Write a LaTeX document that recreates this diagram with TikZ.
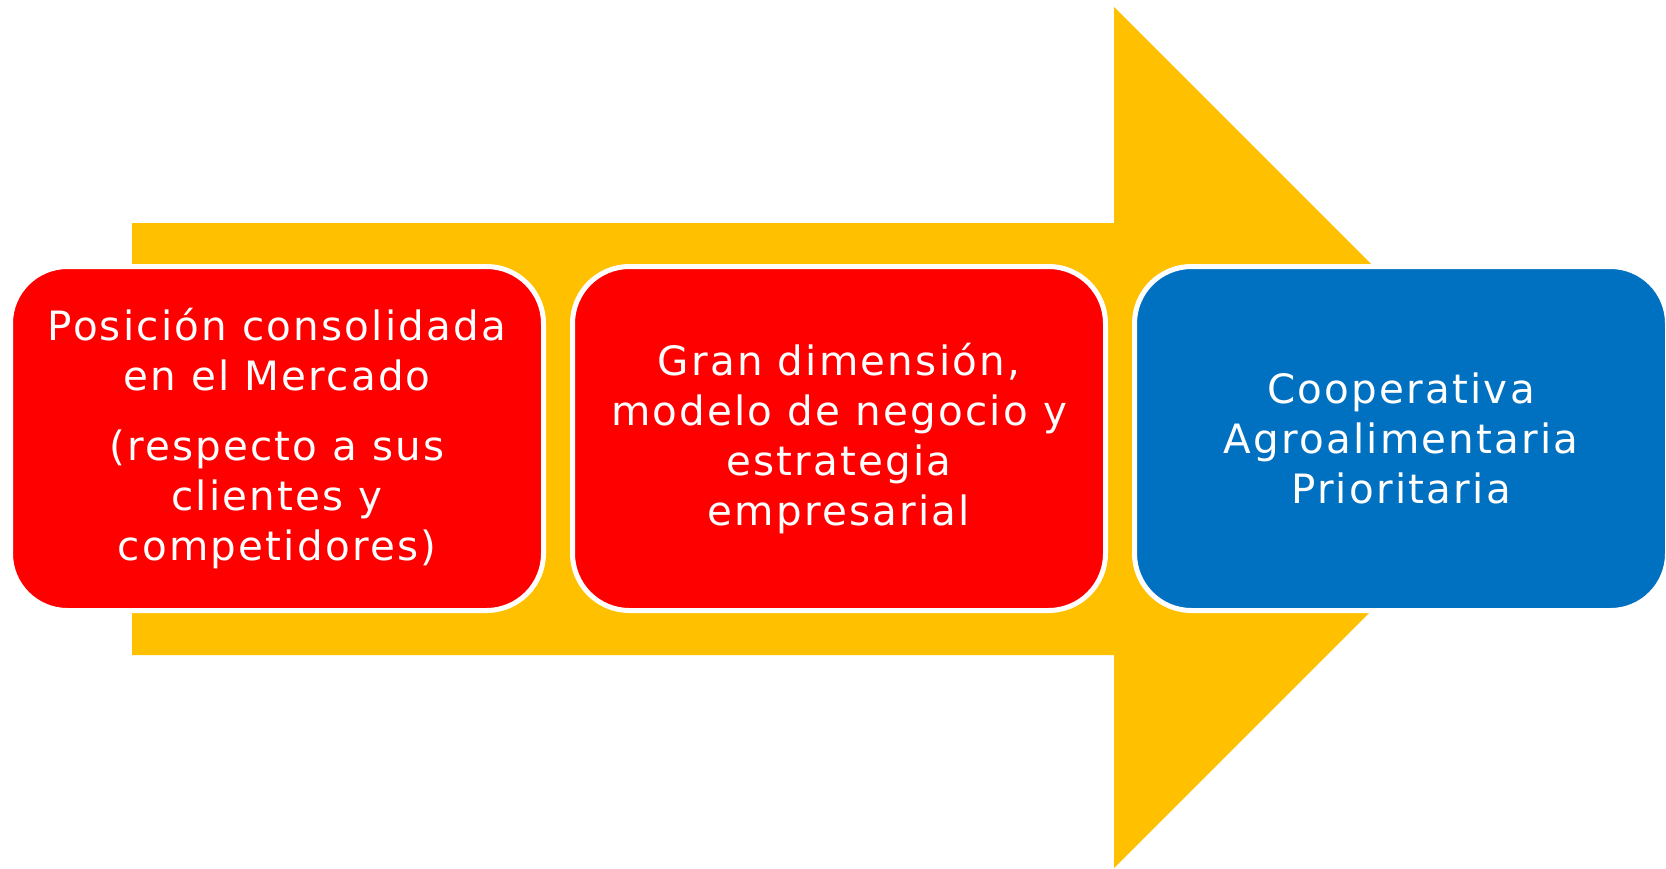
\documentclass[tikz,border=0pt]{standalone}
\usepackage{fontspec}
\setmainfont[LetterSpace=5.5]{DejaVu Sans}
\usepackage{tikz}
\usetikzlibrary{positioning}
\definecolor{arrowgold}{HTML}{FFC000}
\definecolor{stepred}{HTML}{FF0000}
\definecolor{stepblue}{HTML}{0070C0}

\begin{document}
\begin{tikzpicture}
	\tikzset{stage/.style={draw=white,line width=0.05cm,rounded corners=0.57cm,minimum width=5.33cm,minimum height=3.44cm,inner sep=0pt,align=center,text=white,font=\fontsize{11.5}{14.2}\selectfont}}
	\tikzset{node distance=0.24cm}
	\useasboundingbox (0,0) rectangle (16.66,8.68);
	% big arrow behind the stages
	\fill[arrowgold] (1.32,6.45) -- (11.14,6.45) -- (11.14,8.61) -- (15.445,4.305) -- (11.14,0) -- (11.14,2.13) -- (1.32,2.13) -- cycle;
	\node[stage,fill=stepred] (posicion) at (2.77,4.295) {Posición consolidada\\ en el Mercado\\[0.2cm] (respecto a sus\\ clientes y\\ competidores)};
	\node[stage,fill=stepred,right=of posicion] (dimension) {Gran dimensión,\\ modelo de negocio y\\ estrategia\\ empresarial};
	\node[stage,fill=stepblue,right=of dimension] (cooperativa) {Cooperativa\\ Agroalimentaria\\ Prioritaria};
\end{tikzpicture}
\end{document}
